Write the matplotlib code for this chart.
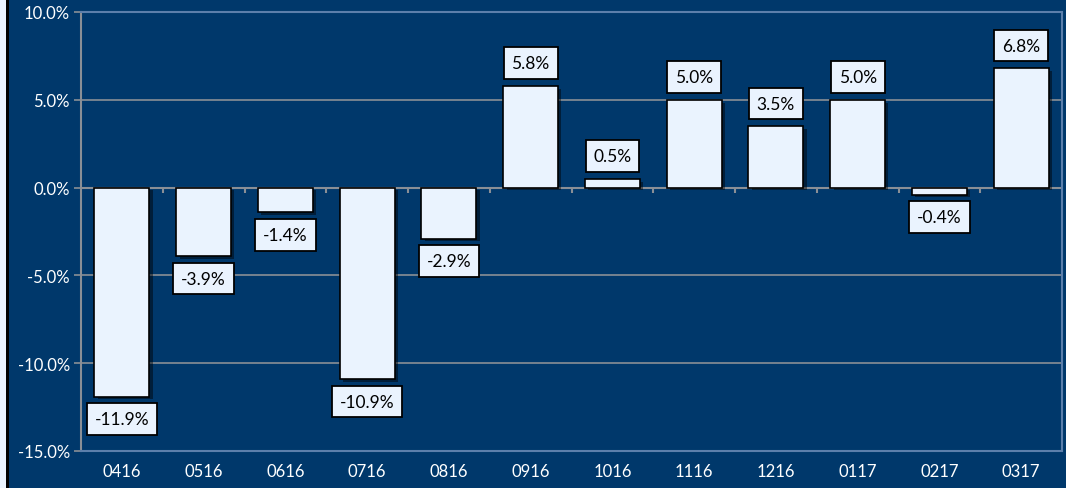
import numpy as np
import matplotlib
matplotlib.use('Agg')
import matplotlib.pyplot as plt
import matplotlib.patheffects as pe
from matplotlib.patches import Rectangle

# data
months = ['0416', '0516', '0616', '0716', '0816', '0916',
          '1016', '1116', '1216', '0117', '0217', '0317']
returns = [-11.9, -3.9, -1.4, -10.9, -2.9, 5.8, 0.5, 5.0, 3.5, 5.0, -0.4, 6.8]
yticks = [-15, -10, -5, 0, 5, 10]

navy = '#00386b'
bar_color = '#eaf3fe'
frame_color = '#5c7fab'
grid_color = '#8a8f96'

plt.rcParams['font.family'] = ['Lato', 'DejaVu Sans']

fig = plt.figure(figsize=(10.66, 4.89), dpi=100, facecolor=navy)
ax = fig.add_axes([81/1066, 1 - 452/489, (1062 - 81)/1066, (452 - 13)/489])
ax.set_facecolor(navy)

# left edge strip of the original screenshot
fig.patches.append(Rectangle((0, 0), 6/1066, 1, transform=fig.transFigure,
                             facecolor='#eaf3fe', edgecolor='none', zorder=0))
fig.patches.append(Rectangle((6/1066, 0), 3/1066, 1, transform=fig.transFigure,
                             facecolor='black', edgecolor='none', zorder=0))

x = np.arange(len(months))
bars = ax.bar(x, returns, width=0.67, color=bar_color, edgecolor='black',
              linewidth=1.2, zorder=3)
for b in bars:
    b.set_path_effects([pe.SimplePatchShadow(offset=(2.5, -2), shadow_rgbFace='black', alpha=0.45),
                        pe.Normal()])

ax.set_xlim(-0.5, len(months) - 0.5)
ax.set_ylim(-15, 10)
ax.set_yticks(yticks)
ax.set_yticklabels([f'{v:.1f}%' for v in yticks])
ax.set_xticks(x)
ax.set_xticklabels(months)

ax.tick_params(axis='y', colors=grid_color, labelcolor='white', labelsize=12,
               length=5, width=1.2, pad=3)
ax.tick_params(axis='x', length=0, labelcolor='white', labelsize=12, pad=9)

ax.grid(axis='y', color=grid_color, linewidth=1.2, zorder=1)
ax.set_axisbelow(True)

for s in ['top', 'right', 'bottom']:
    ax.spines[s].set_color(frame_color)
    ax.spines[s].set_linewidth(1.5)
ax.spines['left'].set_color(grid_color)
ax.spines['left'].set_linewidth(1.5)

# zero axis tick marks between categories
ax.axhline(0, color=grid_color, linewidth=1.5, zorder=2)
bounds = np.arange(1, len(months)) - 0.5
ax.vlines(bounds, -0.3, 0, color=grid_color, linewidth=1.5, zorder=2)

# value labels
for xi, v in zip(x, returns):
    off = 10.5 if v >= 0 else -10.5
    ax.annotate(f'{v:.1f}%', (xi, v), xytext=(0, off), textcoords='offset points',
                ha='center', va='bottom' if v >= 0 else 'top', fontsize=12.5,
                color='black', zorder=5,
                bbox=dict(boxstyle='square,pad=0.45', facecolor=bar_color,
                          edgecolor='black', linewidth=1.3))

fig.savefig('out.png', dpi=100, facecolor=navy)
